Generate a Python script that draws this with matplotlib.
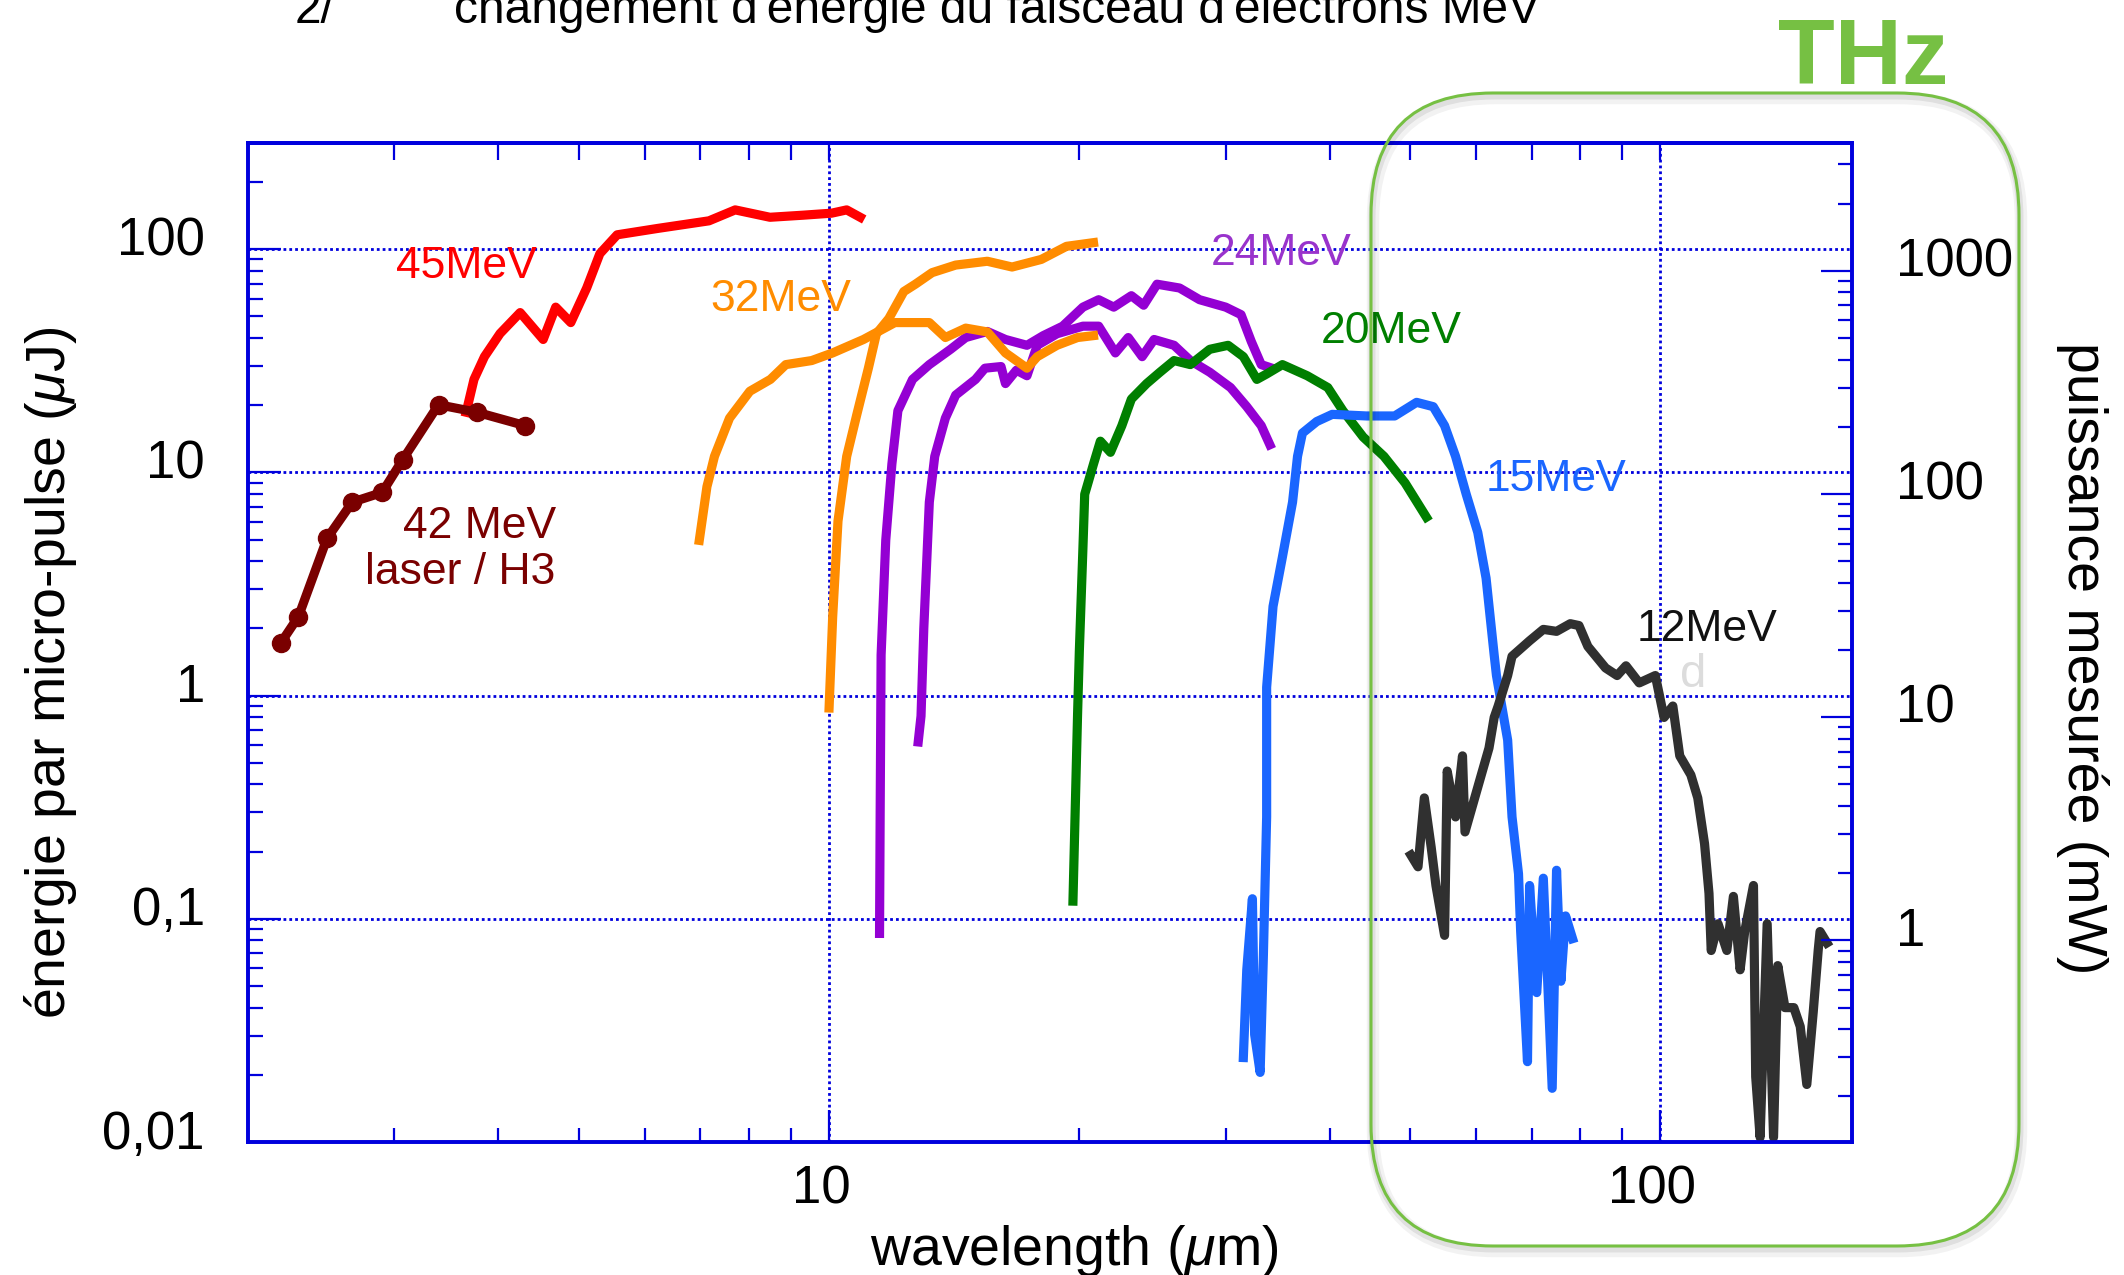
import numpy as np
import matplotlib
matplotlib.use("Agg")
import matplotlib.pyplot as plt
import matplotlib.transforms as mtransforms
from matplotlib.patches import FancyBboxPatch
from matplotlib.ticker import LogLocator, NullFormatter

plt.rcParams["font.family"] = "Liberation Sans"
plt.rcParams["mathtext.fontset"] = "custom"
plt.rcParams["mathtext.rm"] = "Liberation Sans"
plt.rcParams["mathtext.it"] = "Liberation Sans:italic"

# ---- values: wavelength (um) vs energy per micro-pulse (uJ)
red45_x = [3.66, 3.74, 3.85, 4.02, 4.25, 4.53, 4.69, 4.89, 5.11, 5.30, 5.56, 6.23,
           7.17, 7.71, 8.49, 9.3, 10.07, 10.5, 10.9]
red45_y = [18.6, 26.1, 33.0, 41.9, 52.0, 39.4, 55.0, 46.9, 67.0, 95.5, 116, 124,
           134, 150, 139, 142, 145, 150, 139]

laser42_x = [2.19, 2.30, 2.49, 2.67, 2.90, 3.07, 3.39, 3.77, 4.31]
laser42_y = [1.72, 2.26, 5.07, 7.36, 8.13, 11.4, 20.1, 18.6, 16.2]

orange32a_x = [6.98, 7.13, 7.28, 7.59, 8.03, 8.50, 8.87, 9.53, 10.1, 11.0, 12.0, 13.2,
               13.8, 14.6, 15.5, 16.3, 17.3, 17.8, 18.8, 19.9, 20.8]
orange32a_y = [4.96, 8.63, 11.8, 17.5, 23.1, 26.1, 30.4, 31.7, 34.3, 39.4, 46.9, 46.9,
               40.2, 44.3, 42.6, 34.3, 29.3, 33.0, 37.1, 40.2, 41.0]
orange32b_x = [10.0, 10.1, 10.25, 10.5, 10.8, 11.15, 11.4, 11.8, 12.3, 12.7, 13.3, 14.2,
               15.5, 16.6, 18.0, 19.3, 20.8]
orange32b_y = [0.88, 2.25, 6.05, 11.8, 18.2, 29.3, 41.8, 48.9, 64.6, 69.7, 78.5, 84.9,
               88.3, 83.2, 90.0, 103, 107]

purple24a_x = [11.5, 11.52, 11.55, 11.7, 11.9, 12.1, 12.6, 13.2, 14.0, 14.6, 15.5, 16.3,
               17.3, 18.1, 19.1, 20.2, 21.1, 22.0, 23.1, 23.9, 24.8, 26.4, 27.9, 30.0,
               31.3, 32.2, 33.1, 34.1]
purple24a_y = [0.086, 0.3, 1.52, 4.97, 10.9, 18.9, 26.1, 30.4, 35.6, 40.2, 42.8, 39.4,
               37.1, 41.0, 45.2, 55.0, 59.4, 55.0, 61.9, 56.1, 69.7, 67.0, 59.4, 55.0,
               50.9, 38.6, 30.4, 29.3]
purple24b_x = [12.8, 12.9, 13.0, 13.2, 13.4, 13.8, 14.2, 15.0, 15.4, 16.1, 16.3, 16.8,
               17.3, 17.8, 18.8, 20.2, 21.1, 22.1, 22.9, 23.8, 24.6, 26.0, 27.2, 28.7,
               30.4, 31.8, 33.1, 33.9]
purple24b_y = [0.62, 0.81, 2.0, 7.36, 11.8, 17.5, 22.2, 26.1, 29.3, 29.8, 25.0, 28.7,
               27.1, 37.1, 41.8, 45.2, 45.2, 34.3, 40.2, 33.0, 39.4, 37.1, 31.7, 28.1,
               24.0, 19.7, 16.2, 13.3]

green20_x = [19.65, 19.9, 20.0, 20.2, 20.3, 20.8, 21.2, 21.8, 22.5, 23.1, 24.1, 25.0,
             26.0, 27.2, 28.7, 30.2, 31.5, 32.7, 33.6, 35.1, 37.6, 39.8, 41.5, 43.9,
             46.5, 49.3, 52.3]
green20_y = [0.12, 0.81, 1.58, 4.59, 7.98, 10.9, 13.8, 12.3, 16.2, 21.3, 25.0, 28.1,
             31.7, 30.4, 35.6, 37.1, 33.0, 26.1, 27.6, 30.4, 27.1, 24.0, 18.9, 14.4,
             11.8, 8.97, 6.3]

blue15_x = [31.5, 31.8, 32.3, 32.5, 33.0, 33.3, 33.6, 33.6, 34.2, 35.1, 36.1, 36.6,
            37.1, 38.6, 40.3, 44.3, 47.9, 50.9, 53.3, 55.0, 56.7, 58.4, 60.3, 61.7,
            63.1, 63.5, 65.5, 66.3, 67.5, 67.9, 69.2, 69.6, 71.0, 72.3, 74.1, 75.0,
            75.9, 76.9, 78.4]
blue15_y = [0.0239, 0.059, 0.123, 0.0303, 0.0205, 0.069, 0.286, 1.09, 2.51, 4.18, 7.36,
            11.8, 15.0, 16.9, 18.2, 17.9, 17.9, 20.6, 19.7, 16.2, 11.8, 7.98, 5.38, 3.36,
            1.52, 1.23, 0.632, 0.286, 0.159, 0.088, 0.0229, 0.141, 0.0467, 0.152, 0.0174,
            0.165, 0.0525, 0.103, 0.0815]

black12_x = [50.1, 51.1, 52.0, 53.0, 53.7, 55.0, 55.4, 56.7, 57.8, 58.2, 60.7, 62.2,
             63.1, 63.8, 65.5, 66.3, 69.6, 72.3, 75.0, 77.9, 79.8, 81.8, 85.9, 88.7,
             90.9, 94.3, 98.6, 101, 103.5, 105.5, 108.8, 110.9, 113, 114.4, 115.1, 117.3,
             120.2, 122.4, 124.7, 126.3, 129.4, 130.2, 131.8, 134.4, 136.8, 138.4, 141.2,
             144.7, 147.3, 150, 152.7, 154.8, 155.6, 158.6]
black12_y = [0.193, 0.171, 0.348, 0.209, 0.141, 0.0843, 0.459, 0.286, 0.537, 0.245,
             0.424, 0.582, 0.798, 0.898, 1.23, 1.50, 1.76, 1.98, 1.94, 2.10, 2.06, 1.66,
             1.33, 1.23, 1.36, 1.14, 1.23, 0.798, 0.898, 0.537, 0.441, 0.348, 0.217,
             0.130, 0.0721, 0.095, 0.0721, 0.126, 0.0591, 0.0877, 0.141, 0.0196, 0.0105,
             0.095, 0.0105, 0.0617, 0.040, 0.040, 0.0329, 0.0181, 0.0383, 0.0721, 0.0877,
             0.078]

XTICKS = [10, 100]
XTICK_LABELS = ["10", "100"]
YTICKS = [0.01, 0.1, 1, 10, 100]
YTICK_LABELS = ["0,01", "0,1", "1", "10", "100"]
RTICKS = [1, 10, 100, 1000]
RTICK_LABELS = ["1", "10", "100", "1000"]
POWER_PER_ENERGY = 12.5      # right axis (mW) = left axis (uJ) x 12.5

BLUE = "#0000dd"
GREEN_BOX = "#76c043"
W, H = 2124, 1275

fig = plt.figure(figsize=(W / 100, H / 100), dpi=100)
ax = fig.add_axes([248 / W, 1 - 1142 / H, (1852 - 248) / W, (1142 - 142.7) / H])
ax.set_xscale("log")
ax.set_yscale("log")
ax.set_xlim(2, 170)
ax.set_ylim(0.01, 300)

LW = 6.6
ax.plot(red45_x, red45_y, color="#ff0000", lw=LW, zorder=3)
ax.plot(laser42_x, laser42_y, color="#7a0000", lw=LW, marker="o", ms=13, zorder=4)
ax.plot(purple24a_x, purple24a_y, color="#9400d3", lw=LW, zorder=3)
ax.plot(purple24b_x, purple24b_y, color="#9400d3", lw=LW, zorder=3)
ax.plot(orange32a_x, orange32a_y, color="#ff8c00", lw=LW, zorder=3)
ax.plot(orange32b_x, orange32b_y, color="#ff8c00", lw=LW, zorder=3)
ax.plot(green20_x, green20_y, color="#007f00", lw=LW, zorder=3)
ax.plot(blue15_x, blue15_y, color="#1a66ff", lw=LW, zorder=3)
ax.plot(black12_x, black12_y, color="#303030", lw=LW, zorder=4)

lab = dict(fontsize=32, ha="center", va="center", zorder=6)
ax.text(3.66, 84, "45MeV", color="#ff0000", **lab)
ax.text(8.75, 59.4, "32MeV", color="#ff8c00", **lab)
ax.text(35.0, 95.5, "24MeV", color="#9933cc", **lab)
ax.text(47.5, 43.0, "20MeV", color="#007f00", **lab)
ax.text(74.8, 9.3, "15MeV", color="#1a66ff", **lab)
ax.text(113.9, 1.98, "12MeV", color="#111111", **lab)
ax.text(109.6, 1.235, "d", color="#dcdcdc", fontsize=34, ha="center", va="center", zorder=6)
ax.text(4.69, 5.71, "42 MeV", color="#7a0000", fontsize=32, ha="right", va="center", zorder=6)
ax.text(4.69, 3.55, "laser / H3", color="#7a0000", fontsize=32, ha="right", va="center", zorder=6)

ax.set_xticks(XTICKS, XTICK_LABELS)
ax.set_yticks(YTICKS, YTICK_LABELS)
for a in (ax.xaxis, ax.yaxis):
    a.set_minor_locator(LogLocator(base=10, subs=np.arange(2, 10)))
    a.set_minor_formatter(NullFormatter())
ax.tick_params(which="both", direction="in", color=BLUE, width=1.6, labelsize=38,
               top=False, right=False)
ax.tick_params(axis="x", which="major", length=23, pad=16)
ax.tick_params(axis="x", which="minor", length=10)
ax.tick_params(axis="y", which="major", length=24, pad=31)
ax.tick_params(axis="y", which="minor", length=11)
ax.grid(True, which="major", color=BLUE, ls=(0, (1, 1.1)), lw=2.0)
for s in ax.spines.values():
    s.set_color(BLUE)
    s.set_linewidth(2.6)

top = ax.secondary_xaxis("top")
top.xaxis.set_major_locator(LogLocator(base=10))
top.xaxis.set_minor_locator(LogLocator(base=10, subs=np.arange(2, 10)))
top.xaxis.set_major_formatter(NullFormatter())
top.xaxis.set_minor_formatter(NullFormatter())
top.tick_params(which="both", direction="in", length=12, color=BLUE, width=1.6,
                labeltop=False)
for s in top.spines.values():
    s.set_color(BLUE)
    s.set_linewidth(2.6)

ax2 = ax.twinx()
ax2.set_yscale("log")
lo, hi = ax.get_ylim()
ax2.set_ylim(lo * POWER_PER_ENERGY, hi * POWER_PER_ENERGY)
ax2.set_yticks(RTICKS, RTICK_LABELS)
ax2.yaxis.set_minor_locator(LogLocator(base=10, subs=np.arange(2, 10)))
ax2.yaxis.set_minor_formatter(NullFormatter())
ax2.tick_params(axis="y", which="both", direction="in", color=BLUE, width=1.6, labelsize=38)
ax2.tick_params(axis="y", which="major", length=22, pad=32)
ax2.tick_params(axis="y", which="minor", length=10)
for s in ax2.spines.values():
    s.set_color(BLUE)
    s.set_linewidth(2.6)


def shift(labels, dx, dy):
    off = mtransforms.ScaledTranslation(dx / 100, dy / 100, fig.dpi_scale_trans)
    for t in labels:
        t.set_transform(t.get_transform() + off)


shift(ax.get_yticklabels(), 0, 13)
shift(ax.get_xticklabels(), -8, 0)
shift(ax2.get_yticklabels(), 0, 14)

fig.text(51 / W, 1 - 673 / H, r"énergie par micro-pulse ($\mu$J)", fontsize=40,
         rotation=90, ha="center", va="center")
fig.text(2083 / W, 1 - 658 / H, "puissance mesurée (mW)", fontsize=40,
         rotation=-90, ha="center", va="center")
fig.text(1074 / W, 1 - 1251 / H, r"wavelength ($\mu$m)", fontsize=40,
         ha="center", va="center")

# overlay in pixel units for the THz frame and the heading (cut at the top, as in the source)
ov = fig.add_axes([0, 0, 1, 1], zorder=5)
ov.set_xlim(0, W)
ov.set_ylim(H, 0)
ov.axis("off")
for dx, dy, lw, al in [(2, 5, 9, 0.05), (1, 3, 5, 0.08)]:
    ov.add_patch(FancyBboxPatch((1371 + dx, 93 + dy), 648, 1153,
                                boxstyle="round,pad=0,rounding_size=122",
                                fill=False, ec="black", lw=lw, alpha=al))
ov.add_patch(FancyBboxPatch((1371, 93), 648, 1153, boxstyle="round,pad=0,rounding_size=122",
                            fill=False, ec=GREEN_BOX, lw=2.2))
ov.text(1863, 84, "THz", fontsize=67, fontweight="bold", color=GREEN_BOX,
        ha="center", va="baseline")
ov.text(295, 23, "2/", fontsize=34.5, va="baseline", ha="left")
ov.text(454, 23, "changement d'énergie du faisceau d'électrons MeV", fontsize=34.5,
        va="baseline", ha="left")

fig.savefig("out.png", dpi=100)
